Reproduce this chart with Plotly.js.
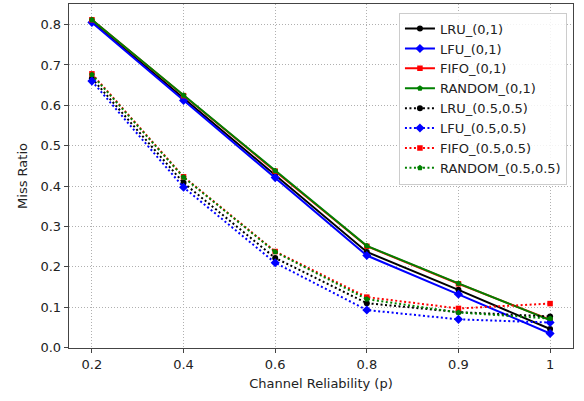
<!DOCTYPE html>
<html>
<head>
<meta charset="utf-8">
<script src="https://cdn.plot.ly/plotly-3.0.1.min.js"></script>
<style>html,body{margin:0;padding:0;background:#fff;}#chart{width:584px;height:401px;}</style>
</head>
<body>
<div id="chart"></div>
<script>
const categories = ["0.2", "0.4", "0.6", "0.8", "0.9", "1"];

const lru01   = [0.808, 0.617, 0.428, 0.237, 0.143, 0.046];
const lfu01   = [0.805, 0.612, 0.421, 0.228, 0.132, 0.035];
const fifo01  = [0.812, 0.624, 0.437, 0.251, 0.158, 0.069];
const rand01  = [0.812, 0.625, 0.438, 0.252, 0.159, 0.068];
const lru55   = [0.667, 0.408, 0.222, 0.110, 0.088, 0.077];
const lfu55   = [0.660, 0.397, 0.210, 0.093, 0.070, 0.062];
const fifo55  = [0.678, 0.423, 0.238, 0.125, 0.097, 0.109];
const rand55  = [0.676, 0.422, 0.237, 0.120, 0.087, 0.072];

const seriesNames = ["LRU_(0,1)", "LFU_(0,1)", "FIFO_(0,1)", "RANDOM_(0,1)",
                     "LRU_(0.5,0.5)", "LFU_(0.5,0.5)", "FIFO_(0.5,0.5)", "RANDOM_(0.5,0.5)"];
const seriesValues = [lru01, lfu01, fifo01, rand01, lru55, lfu55, fifo55, rand55];

const colors = ["#000000", "#0000ff", "#ff0000", "#008000"];
const symbols = ["circle", "diamond", "square", "pentagon"];
const sizes = [6, 7, 5.5, 6];

const traces = seriesValues.map((vals, i) => {
  const k = i % 4;
  const dotted = i >= 4;
  return {
    type: "scatter",
    mode: "lines+markers",
    name: seriesNames[i],
    x: categories,
    y: vals,
    line: {color: colors[k], width: 2, dash: dotted ? "2px,2.5px" : "solid"},
    marker: {color: colors[k], symbol: symbols[k], size: sizes[k], line: {width: 0}}
  };
});

const axisCommon = {
  showline: true, mirror: true, linecolor: "#444", linewidth: 1.3,
  showgrid: true, gridcolor: "#b0b0b0", gridwidth: 1, griddash: "1px,2px",
  ticks: "outside", ticklen: 4, tickwidth: 1, tickcolor: "#444",
  zeroline: false,
  tickfont: {family: "DejaVu Sans", size: 13, color: "#222"}
};

const layout = {
  width: 584, height: 401,
  margin: {l: 69, r: 11, t: 4, b: 53},
  paper_bgcolor: "#fff", plot_bgcolor: "#fff",
  font: {family: "DejaVu Sans", size: 13, color: "#222"},
  xaxis: Object.assign({}, axisCommon, {
    type: "category",
    range: [-0.25, 5.25],
    title: {text: "Channel Reliability (p)", font: {family: "DejaVu Sans", size: 13, color: "#222"}, standoff: 8}
  }),
  yaxis: Object.assign({}, axisCommon, {
    range: [-0.001, 0.851],
    tickvals: [0, 0.1, 0.2, 0.3, 0.4, 0.5, 0.6, 0.7, 0.8],
    tickformat: ".1f",
    title: {text: "Miss Ratio", font: {family: "DejaVu Sans", size: 13, color: "#222"}, standoff: 10}
  }),
  showlegend: true,
  legend: {
    x: 0.988, xanchor: "right", y: 0.975, yanchor: "top",
    bgcolor: "rgba(255,255,255,0.85)", bordercolor: "#cccccc", borderwidth: 1,
    font: {family: "DejaVu Sans", size: 13, color: "#222"},
    itemwidth: 30
  }
};

Plotly.newPlot("chart", traces, layout, {displayModeBar: false, staticPlot: true});
</script>
</body>
</html>
